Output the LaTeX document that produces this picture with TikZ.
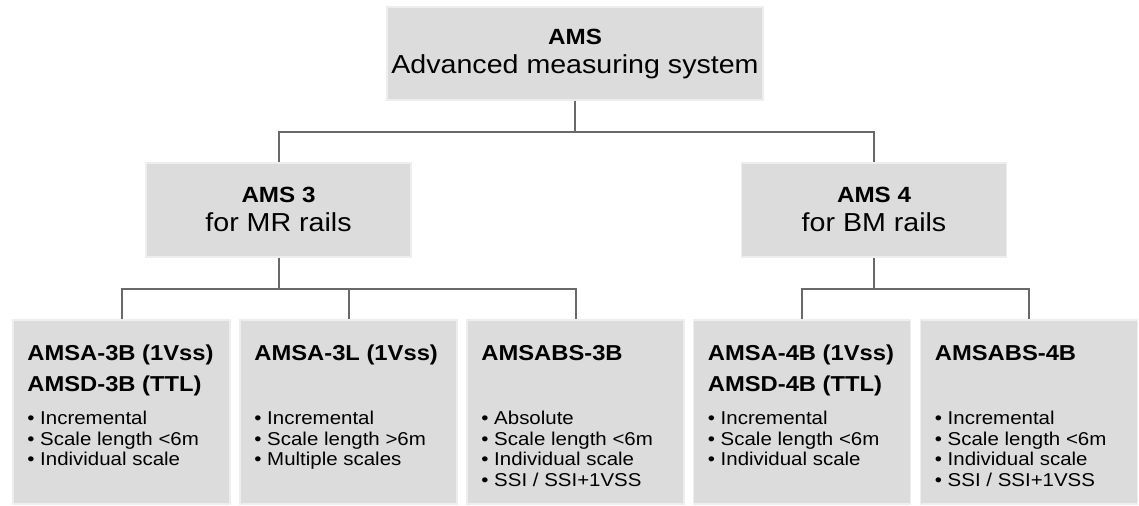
\documentclass[tikz,border=0pt]{standalone}
\usepackage{fontspec}
\setmainfont[FakeStretch=1.1]{Liberation Sans}

\definecolor{boxgray}{RGB}{220,220,220}
\definecolor{edgegray}{RGB}{238,238,238}
\definecolor{linegray}{RGB}{105,105,105}

\tikzset{
  box/.style={rectangle, fill=boxgray, draw=edgegray, line width=0.8pt, inner sep=0pt},
  leaf/.style={box, minimum width=108.5pt, minimum height=92pt},
  bus/.style={linegray, line width=1pt},
  headbf/.style={font=\fontsize{11}{14.5}\selectfont\bfseries, anchor=base, inner sep=0pt},
  headrm/.style={font=\fontsize{13}{15}\selectfont, anchor=base, inner sep=0pt},
  leafbf/.style={font=\fontsize{10.8}{15.25}\selectfont\bfseries, anchor=base west, inner sep=0pt},
  leafrm/.style={font=\fontsize{9.3}{10.25}\selectfont, anchor=base west, inner sep=0pt}
}

\begin{document}
\begin{tikzpicture}[x=0.5pt, y=-0.5pt]
  \useasboundingbox (0,0) rectangle (1139,506);

  % top
  \node[box, minimum width=188pt, minimum height=46.5pt] (ams) at (575,53.5) {};
  \node[headbf] (amsT) at (575,45) {AMS};
  \node[headrm] (amsS) at (575,74) {Advanced measuring system};

  % middle
  \node[box, minimum width=132.5pt, minimum height=47pt] (ams3) at (278.5,210) {};
  \node[headbf] (ams3T) at (278.5,203) {AMS 3};
  \node[headrm] (ams3S) at (278.5,232) {for MR rails};

  \node[box, minimum width=132.5pt, minimum height=47pt] (ams4) at (874,210) {};
  \node[headbf] (ams4T) at (874,203) {AMS 4};
  \node[headrm] (ams4S) at (874,232) {for BM rails};

  % leaves
  \node[leaf] (amsa3b) at (121.5,412) {};
  \node[leafbf] (amsa3bT) at (27,361) {\begin{tabular}[t]{@{}l@{}}AMSA-3B (1Vss)\\AMSD-3B (TTL)\end{tabular}};
  \node[leafrm] (amsa3bL) at (27,425) {\begin{tabular}[t]{@{}l@{}}• Incremental\\• Scale length <6m\\• Individual scale\end{tabular}};

  \node[leaf] (amsa3l) at (348.5,412) {};
  \node[leafbf] (amsa3lT) at (254,361) {AMSA-3L (1Vss)};
  \node[leafrm] (amsa3lL) at (254,425) {\begin{tabular}[t]{@{}l@{}}• Incremental\\• Scale length >6m\\• Multiple scales\end{tabular}};

  \node[leaf] (amsabs3b) at (575.5,412) {};
  \node[leafbf] (amsabs3bT) at (481,361) {AMSABS-3B};
  \node[leafrm] (amsabs3bL) at (481,425) {\begin{tabular}[t]{@{}l@{}}• Absolute\\• Scale length <6m\\• Individual scale\\• SSI / SSI+1VSS\end{tabular}};

  \node[leaf] (amsa4b) at (802,412) {};
  \node[leafbf] (amsa4bT) at (707.5,361) {\begin{tabular}[t]{@{}l@{}}AMSA-4B (1Vss)\\AMSD-4B (TTL)\end{tabular}};
  \node[leafrm] (amsa4bL) at (707.5,425) {\begin{tabular}[t]{@{}l@{}}• Incremental\\• Scale length <6m\\• Individual scale\end{tabular}};

  \node[leaf] (amsabs4b) at (1029,412) {};
  \node[leafbf] (amsabs4bT) at (934.5,361) {AMSABS-4B};
  \node[leafrm] (amsabs4bL) at (934.5,425) {\begin{tabular}[t]{@{}l@{}}• Incremental\\• Scale length <6m\\• Individual scale\\• SSI / SSI+1VSS\end{tabular}};

  % connectors
  \draw[bus] (ams.south) -- ++(0,31) -| (ams3.north);
  \draw[bus] (ams.south) -- ++(0,31) -| (ams4.north);
  \draw[bus] (ams3.south) -- ++(0,31) -| (amsa3b.north);
  \draw[bus] (ams3.south) -- ++(0,31) -| (amsa3l.north);
  \draw[bus] (ams3.south) -- ++(0,31) -| (amsabs3b.north);
  \draw[bus] (ams4.south) -- ++(0,31) -| (amsa4b.north);
  \draw[bus] (ams4.south) -- ++(0,31) -| (amsabs4b.north);
\end{tikzpicture}
\end{document}
